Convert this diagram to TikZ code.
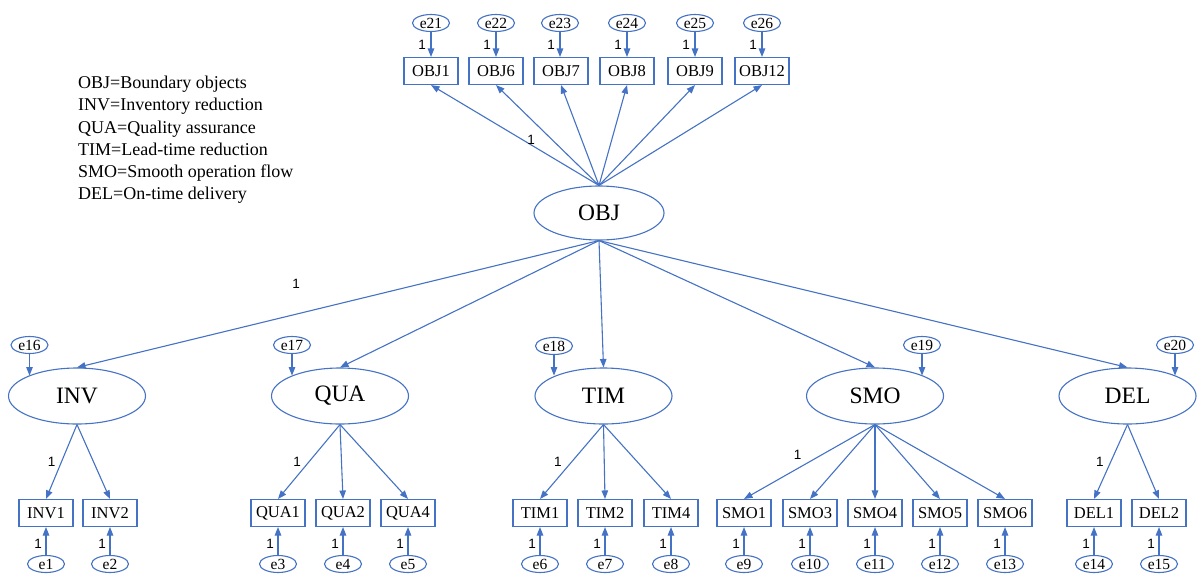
\documentclass[tikz,border=0pt]{standalone}
\usepackage{fontspec}
\setmainfont{Liberation Serif}
\newfontfamily\numfont{Liberation Sans}
\usetikzlibrary{shapes.geometric,arrows.meta}
\definecolor{semblue}{RGB}{68,114,196}
\begin{document}
\begin{tikzpicture}[x=1pt,y=-1pt,
  latent/.style={ellipse,draw=semblue,line width=1.1pt,inner sep=0pt,
    minimum width=137pt,minimum height=56pt,font=\fontsize{23.5}{23.5}\selectfont},
  obsbox/.style={rectangle,draw=semblue,line width=1.1pt,inner sep=0pt,
    minimum width=54pt,minimum height=27pt,font=\fontsize{16.5}{16.5}\selectfont},
  errnode/.style={ellipse,draw=semblue,line width=1.1pt,inner sep=0pt,
    minimum width=37pt,minimum height=17pt,font=\fontsize{15.5}{15.5}\selectfont},
  one/.style={font=\numfont\fontsize{13.5}{13.5}\selectfont,inner sep=1.5pt,text=black},
  arr/.style={draw=semblue,line width=1.1pt,-{Triangle[length=8.5pt,width=6.5pt]}}]
\useasboundingbox (0,0) rectangle (1198,574);

% legend
\node[anchor=north west,inner sep=0pt,align=left,
  font=\fontsize{18}{22.2}\selectfont] (legend) at (78,76)
  {OBJ=Boundary objects\\INV=Inventory reduction\\QUA=Quality assurance\\
   TIM=Lead-time reduction\\SMO=Smooth operation flow\\DEL=On-time delivery};

% second-order factor
\node[latent,minimum width=130pt,minimum height=54pt] (OBJ) at (599,213) {OBJ};

% its own indicators
\foreach \n/\x/\e/\ex in {OBJ1/431/e21/431, OBJ6/496/e22/496, OBJ7/561/e23/560,
                          OBJ8/627/e24/627, OBJ9/695/e25/695, OBJ12/762/e26/762}{
  \node[obsbox] (\n) at (\x,71) {\n};
  \node[errnode] (\e) at (\ex,23) {\e};
  \draw[arr] (\e.south) -- node[one,midway,left=3pt] {1} (\e.south |- \n.north);
}
\draw[arr] (OBJ.north) -- node[one,pos=0.45,right=2pt] {1} (OBJ1.south);
\foreach \n in {OBJ6,OBJ7,OBJ8,OBJ9,OBJ12}
  \draw[arr] (OBJ.north) -- (\n.south);

% first-order factors
\node[latent] (INV) at (77,396) {INV};
\node[latent] (QUA) at (340,396) {QUA};
\node[latent] (TIM) at (603.5,396) {TIM};
\node[latent] (SMO) at (875,396) {SMO};
\node[latent] (DEL) at (1127.5,396) {DEL};

\draw[arr] (OBJ.south) -- node[one,pos=0.58,above=24pt] {1} (INV.north);
\foreach \f in {QUA,TIM,SMO,DEL}
  \draw[arr] (OBJ.south) -- (\f.north);

% disturbances
\node[errnode] (e16) at (29.5,345) {e16};
\node[errnode] (e17) at (292,345) {e17};
\node[errnode] (e18) at (554,346) {e18};
\node[errnode] (e19) at (922,345) {e19};
\node[errnode] (e20) at (1175,345) {e20};
\draw[arr] (e16.south) -- (e16.south |- INV.157);
\draw[arr] (e17.south) -- (e17.south |- QUA.157);
\draw[arr] (e18.south) -- (e18.south |- TIM.157);
\draw[arr] (e19.south) -- (e19.south |- SMO.23);
\draw[arr] (e20.south) -- (e20.south |- DEL.23);

% indicators of the first-order factors
\foreach \n/\x/\e in {INV1/46/e1, INV2/110/e2,
                      QUA1/278/e3, QUA2/343/e4, QUA4/408/e5,
                      TIM1/540/e6, TIM2/605/e7, TIM4/671/e8,
                      SMO1/744/e9, SMO3/810/e10, SMO4/875/e11, SMO5/940/e12, SMO6/1005/e13,
                      DEL1/1094/e14, DEL2/1159/e15}{
  \node[obsbox] (\n) at (\x,513) {\n};
  \node[errnode] (\e) at (\x,564) {\e};
  \draw[arr] (\e.north) -- node[one,pos=0.4,left=2pt] {1} (\n.south);
}

\draw[arr] (INV.south) -- node[one,midway,left=4pt] {1} (INV1.north);
\draw[arr] (INV.south) -- (INV2.north);
\draw[arr] (QUA.south) -- node[one,midway,left=6pt] {1} (QUA1.north);
\draw[arr] (QUA.south) -- (QUA2.north);
\draw[arr] (QUA.south) -- (QUA4.north);
\draw[arr] (TIM.south) -- node[one,midway,left=8pt] {1} (TIM1.north);
\draw[arr] (TIM.south) -- (TIM2.north);
\draw[arr] (TIM.south) -- (TIM4.north);
\draw[arr] (SMO.south) -- node[one,midway,above left,xshift=-6pt] {1} (SMO1.north);
\foreach \n in {SMO3,SMO4,SMO5,SMO6}
  \draw[arr] (SMO.south) -- (\n.north);
\draw[arr] (DEL.south) -- node[one,midway,left=5pt] {1} (DEL1.north);
\draw[arr] (DEL.south) -- (DEL2.north);
\end{tikzpicture}
\end{document}
